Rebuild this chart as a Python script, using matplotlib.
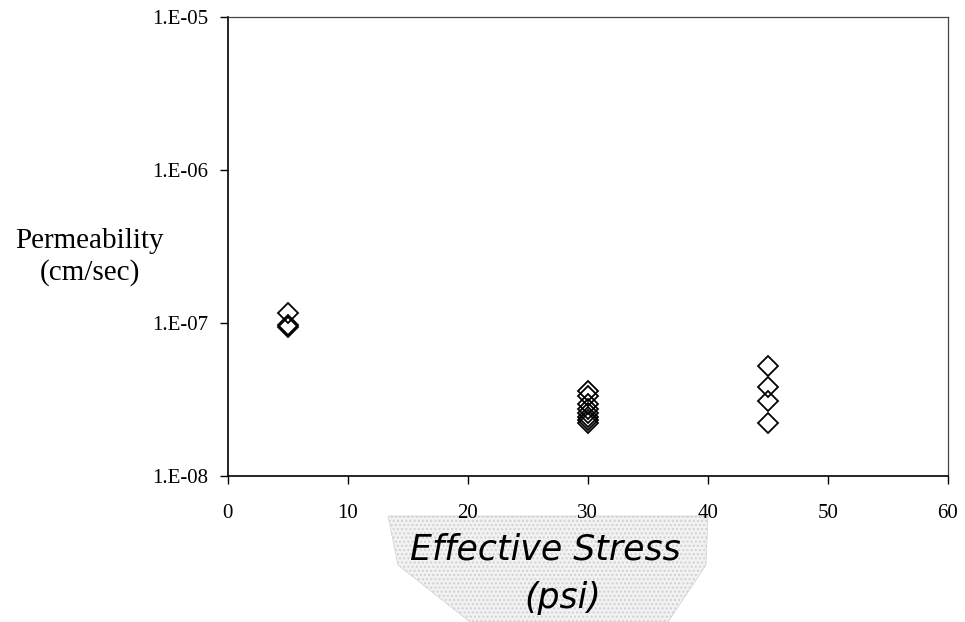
import matplotlib
matplotlib.use("Agg")
import matplotlib.pyplot as plt
from matplotlib.patches import Polygon
from matplotlib.ticker import FixedLocator, FixedFormatter

# Data
stress_5 = [5, 5, 5]
perm_5 = [1.16e-7, 0.97e-7, 0.94e-7]
stress_30 = [30, 30, 30, 30, 30, 30, 30, 30]
perm_30 = [3.6e-8, 3.3e-8, 2.95e-8, 2.75e-8, 2.58e-8, 2.43e-8, 2.3e-8, 2.2e-8]
stress_45 = [45, 45, 45, 45]
perm_45 = [5.25e-8, 3.8e-8, 3.1e-8, 2.2e-8]

x_ticks = [0, 10, 20, 30, 40, 50, 60]
y_ticks = [1e-8, 1e-7, 1e-6, 1e-5]
y_labels = ["1.E-08", "1.E-07", "1.E-06", "1.E-05"]

plt.rcParams['font.family'] = ['Liberation Serif', 'DejaVu Serif']

fig = plt.figure(figsize=(9.65, 6.22), dpi=100)
ax = fig.add_axes([0.236, 0.235, 0.746, 0.738])

xs = stress_5 + stress_30 + stress_45
ys = perm_5 + perm_30 + perm_45
ax.plot(xs, ys, linestyle='none', marker='D', markersize=10,
        markerfacecolor='none', markeredgecolor='black', markeredgewidth=1.3)

ax.set_yscale('log')
ax.set_xlim(0, 60)
ax.set_ylim(1e-8, 1e-5)
ax.xaxis.set_major_locator(FixedLocator(x_ticks))
ax.yaxis.set_major_locator(FixedLocator(y_ticks))
ax.yaxis.set_major_formatter(FixedFormatter(y_labels))
ax.yaxis.set_minor_locator(FixedLocator([]))
ax.tick_params(axis='both', labelsize=15, direction='out', length=6, width=1, color='black')
ax.tick_params(axis='x', pad=14)
ax.tick_params(axis='y', pad=8)

for s in ['left', 'bottom']:
    ax.spines[s].set_color('black')
    ax.spines[s].set_linewidth(1.2)
for s in ['top', 'right']:
    ax.spines[s].set_color('#444444')
    ax.spines[s].set_linewidth(0.9)

fig.text(89 / 965, 1 - 241 / 622, "Permeability", ha='center', va='center', fontsize=21)
fig.text(90 / 965, 1 - 273 / 622, "(cm/sec)", ha='center', va='center', fontsize=21)

# stippled background behind the handwritten axis title
pts = [(388, 516), (708, 516), (706, 565), (668, 622), (470, 622), (398, 565)]
poly = Polygon([(x / 965, 1 - y / 622) for x, y in pts], closed=True,
               transform=fig.transFigure, facecolor='#f2f2f2', edgecolor='#d0d0d0',
               hatch='....', linewidth=0.5, zorder=-1)
fig.patches.append(poly)

fig.text(545 / 965, 1 - 549 / 622, "Effective Stress", ha='center', va='center',
         fontsize=25, style='italic', family=['DejaVu Sans'])
fig.text(563 / 965, 1 - 598 / 622, "(psi)", ha='center', va='center',
         fontsize=25, style='italic', family=['DejaVu Sans'])

fig.savefig("out.png", dpi=100)
